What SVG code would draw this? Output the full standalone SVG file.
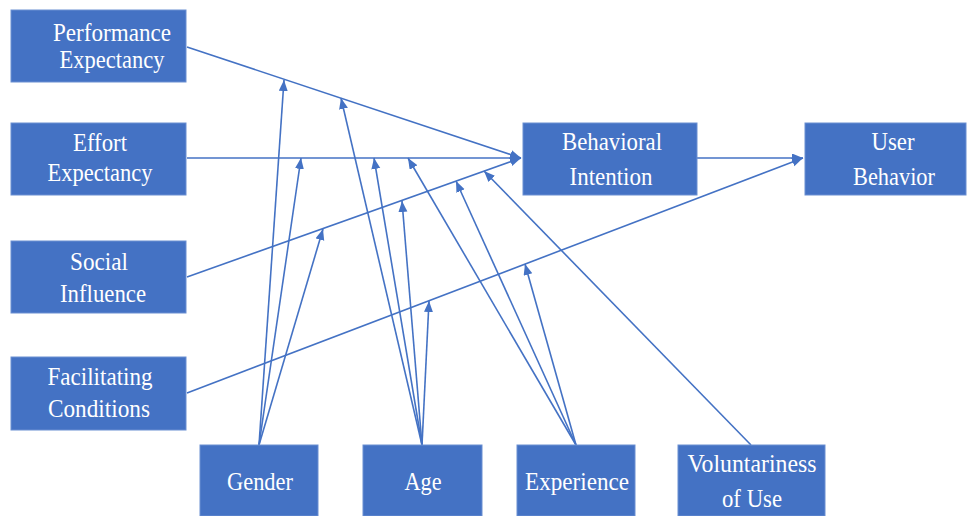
<svg xmlns="http://www.w3.org/2000/svg" width="970" height="516" viewBox="0 0 970 516">
<style>
.box{fill:#4472C4;stroke:#6a8fd2;stroke-width:1}
.t{font-size:25px;fill:#ffffff;text-anchor:middle}
.ln{stroke:#4472C4;stroke-width:1.6;fill:none;marker-end:url(#ah)}
</style>
<defs>
<marker id="ah" markerUnits="userSpaceOnUse" markerWidth="12" markerHeight="10" refX="11" refY="4.5" orient="auto">
<path d="M0,0 L11,4.5 L0,9 z" fill="#4472C4"/>
</marker>
</defs>
<rect width="970" height="516" fill="#ffffff"/>
<g id="connectors">
<line class="ln" x1="187" y1="47" x2="521" y2="158"/>
<line class="ln" x1="187" y1="158" x2="521" y2="158"/>
<line class="ln" x1="187" y1="277" x2="521" y2="158"/>
<line class="ln" x1="187" y1="393" x2="803" y2="158"/>
<line class="ln" x1="697" y1="158" x2="803" y2="158"/>
<line class="ln" x1="259" y1="445" x2="284" y2="80"/>
<line class="ln" x1="259" y1="445" x2="301" y2="158"/>
<line class="ln" x1="259" y1="445" x2="323" y2="229"/>
<line class="ln" x1="422" y1="445" x2="341" y2="98"/>
<line class="ln" x1="422" y1="445" x2="374" y2="158"/>
<line class="ln" x1="422" y1="445" x2="402" y2="201"/>
<line class="ln" x1="422" y1="445" x2="429" y2="301"/>
<line class="ln" x1="576" y1="445" x2="408" y2="158"/>
<line class="ln" x1="576" y1="445" x2="456" y2="181"/>
<line class="ln" x1="576" y1="445" x2="525" y2="264"/>
<line class="ln" x1="751" y1="445" x2="484" y2="171"/>
</g>
<g font-family="Liberation Serif, Times New Roman, serif">
<g id="performance-expectancy">
<rect class="box" x="11" y="10" width="175" height="72"/>
<text class="t" x="112" y="41" textLength="118" lengthAdjust="spacingAndGlyphs">Performance</text>
<text class="t" x="112" y="68" textLength="105" lengthAdjust="spacingAndGlyphs">Expectancy</text>
</g>
<g id="effort-expectancy">
<rect class="box" x="11" y="123" width="175" height="72"/>
<text class="t" x="100" y="151" textLength="54" lengthAdjust="spacingAndGlyphs">Effort</text>
<text class="t" x="100" y="181" textLength="105" lengthAdjust="spacingAndGlyphs">Expectancy</text>
</g>
<g id="social-influence">
<rect class="box" x="11" y="241" width="175" height="72"/>
<text class="t" x="99" y="270" textLength="58" lengthAdjust="spacingAndGlyphs">Social</text>
<text class="t" x="103" y="302" textLength="86" lengthAdjust="spacingAndGlyphs">Influence</text>
</g>
<g id="facilitating-conditions">
<rect class="box" x="11" y="357" width="175" height="73"/>
<text class="t" x="100" y="385" textLength="105" lengthAdjust="spacingAndGlyphs">Facilitating</text>
<text class="t" x="99" y="417" textLength="102" lengthAdjust="spacingAndGlyphs">Conditions</text>
</g>
<g id="behavioral-intention">
<rect class="box" x="523" y="123" width="174" height="72"/>
<text class="t" x="612" y="150" textLength="100" lengthAdjust="spacingAndGlyphs">Behavioral</text>
<text class="t" x="611" y="185" textLength="83" lengthAdjust="spacingAndGlyphs">Intention</text>
</g>
<g id="user-behavior">
<rect class="box" x="805" y="123" width="161" height="72"/>
<text class="t" x="893" y="150" textLength="43" lengthAdjust="spacingAndGlyphs">User</text>
<text class="t" x="894" y="185" textLength="82" lengthAdjust="spacingAndGlyphs">Behavior</text>
</g>
<g id="gender">
<rect class="box" x="200" y="445" width="118" height="71"/>
<text class="t" x="260" y="490" textLength="66" lengthAdjust="spacingAndGlyphs">Gender</text>
</g>
<g id="age">
<rect class="box" x="363" y="445" width="119" height="71"/>
<text class="t" x="423" y="490" textLength="37" lengthAdjust="spacingAndGlyphs">Age</text>
</g>
<g id="experience">
<rect class="box" x="517" y="445" width="118" height="71"/>
<text class="t" x="577" y="490" textLength="104" lengthAdjust="spacingAndGlyphs">Experience</text>
</g>
<g id="voluntariness-of-use">
<rect class="box" x="678" y="445" width="147" height="71"/>
<text class="t" x="752" y="472" textLength="129" lengthAdjust="spacingAndGlyphs">Voluntariness</text>
<text class="t" x="752" y="507" textLength="60" lengthAdjust="spacingAndGlyphs">of Use</text>
</g>
</g>
</svg>
